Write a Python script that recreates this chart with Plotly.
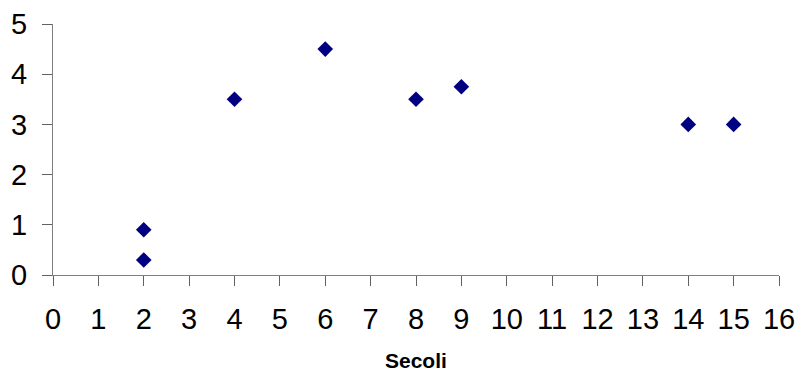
import plotly.graph_objects as go

# Centuries vs. values
secoli = [2, 2, 4, 6, 8, 9, 14, 15]
valori = [0.3, 0.9, 3.5, 4.5, 3.5, 3.75, 3.0, 3.0]

x_ticks = list(range(0, 17))
y_ticks = list(range(0, 6))

fig = go.Figure(
    go.Scatter(
        x=secoli,
        y=valori,
        mode="markers",
        marker=dict(symbol="diamond", size=12, color="#000080",
                    line=dict(width=0)),
        showlegend=False,
    )
)

axis_font = dict(family="Liberation Sans, Arial, sans-serif", size=29, color="#000000")

fig.update_xaxes(
    range=[0, 16], tickvals=x_ticks, ticktext=[str(v) for v in x_ticks],
    showgrid=False, zeroline=False, showline=True, linecolor="#808080", linewidth=1,
    ticks="outside", ticklen=10, tickcolor="#606060", tickfont=axis_font,
    ticklabelstandoff=8, automargin=False,
)
fig.update_yaxes(
    range=[0, 5], tickvals=y_ticks, ticktext=[str(v) for v in y_ticks],
    showgrid=False, zeroline=False, showline=True, linecolor="#808080", linewidth=1,
    ticks="outside", ticklen=10, tickcolor="#606060", tickfont=axis_font,
    ticklabelstandoff=9, automargin=False,
)

fig.add_annotation(
    text="<b>Secoli</b>", xref="paper", yref="paper", x=0.5, y=-0.342,
    xanchor="center", yanchor="middle", showarrow=False,
    font=dict(family="Liberation Sans, Arial, sans-serif", size=21, color="#000000"),
)

fig.update_layout(
    width=798, height=376,
    margin=dict(l=53, r=19, t=24, b=101),
    plot_bgcolor="white", paper_bgcolor="white",
)

fig.write_html("out.html")
